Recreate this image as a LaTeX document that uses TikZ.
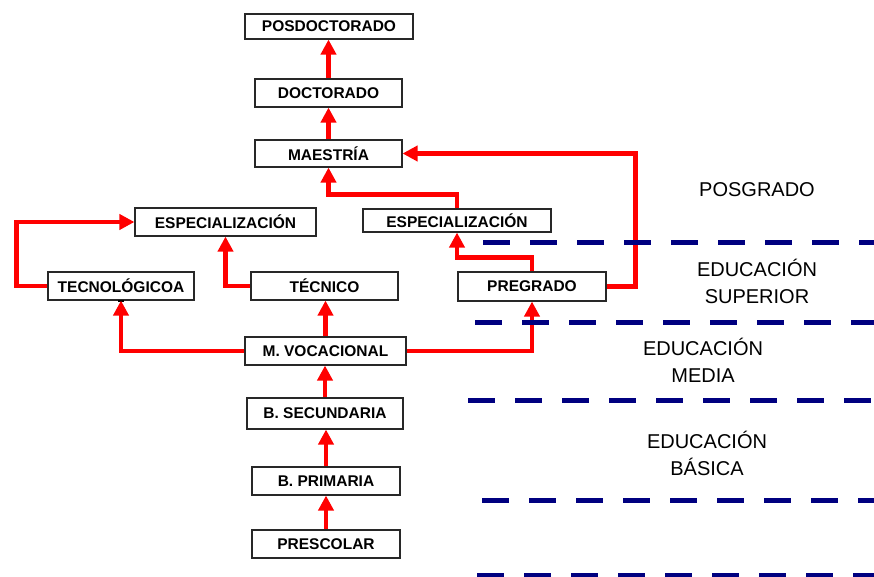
\documentclass[tikz,border=0pt]{standalone}
\usepackage{fontspec}
\setmainfont{Liberation Sans}
\usetikzlibrary{arrows.meta,calc}
\definecolor{arrred}{RGB}{255,0,0}
\definecolor{dashblue}{RGB}{0,0,128}
\definecolor{boxline}{RGB}{40,40,40}
\begin{document}
\begin{tikzpicture}[x=1pt,y=-1pt,
  lvlbox/.style={draw=boxline,line width=1.1pt,fill=white,inner sep=0pt,
    font=\bfseries\fontsize{15.5}{18}\selectfont},
  arr/.style={draw=arrred,line width=4.5pt,line join=miter,
    -{Triangle[length=15pt,width=15pt]}},
  levelline/.style={draw=dashblue,line width=5pt,dash pattern=on 27pt off 20pt},
  lvllabel/.style={align=center,font=\fontsize{20}{27}\selectfont,inner sep=0pt}]
\useasboundingbox (0,0) rectangle (874,577);
% boxes
\node[lvlbox,minimum width=168pt,minimum height=25pt] (posdoc) at (329,26.5) {POSDOCTORADO};
\node[lvlbox,minimum width=147pt,minimum height=28pt] (doc) at (328.5,93) {DOCTORADO};
\node[lvlbox,minimum width=147pt,minimum height=27pt] (maes) at (328.5,153.5) {MAESTRÍA};
\node[lvlbox,minimum width=181pt,minimum height=28pt] (espL) at (225.5,222) {ESPECIALIZACIÓN};
\node[lvlbox,minimum width=188pt,minimum height=23pt] (espR) at (457,220.5) {ESPECIALIZACIÓN};
\node[lvlbox,minimum width=146pt,minimum height=28pt] (tecno) at (121,286) {TECNOLÓGICOA};
\node[lvlbox,minimum width=147pt,minimum height=28pt] (tecnico) at (324.5,286) {TÉCNICO};
\node[lvlbox,minimum width=148pt,minimum height=29pt] (preg) at (532,286.5) {PREGRADO};
\node[lvlbox,minimum width=161pt,minimum height=28pt] (mv) at (325.5,351) {M. VOCACIONAL};
\node[lvlbox,minimum width=156pt,minimum height=31pt] (bsec) at (325,413.5) {B. SECUNDARIA};
\node[lvlbox,minimum width=148pt,minimum height=28pt] (bprim) at (326,481) {B. PRIMARIA};
\node[lvlbox,minimum width=148pt,minimum height=28pt] (presc) at (326,544) {PRESCOLAR};
% small mark under TECNOLOGICOA
\draw[black,line width=2pt] ($(tecno.south)+(-3,0)$) -- ($(tecno.south)+(3,0)$);
% connectors
\draw[arr] (doc.north) -- (doc.north |- posdoc.south);
\draw[arr] (maes.north) -- (maes.north |- doc.south);
\draw[arr] (espR.north) -- ++(0,-14) -| (maes.south);
\draw[arr] (preg.north) -- ++(0,-14) -| (espR.south);
\draw[arr] (preg.east) -- ++(29,0) |- (maes.east);
\draw[arr] (mv.north) -- (mv.north |- tecnico.south);
\draw[arr] (tecnico.west) -| (espL.south);
\draw[arr] (tecno.west) -- ++(-31,0) |- (espL.west);
\draw[arr] (mv.west) -| (tecno.south);
\draw[arr] (mv.east) -| (preg.south);
\draw[arr] (bsec.north) -- (bsec.north |- mv.south);
\draw[arr] (bprim.north) -- (bprim.north |- bsec.south);
\draw[arr] (presc.north) -- (presc.north |- bprim.south);
% level lines
\draw[levelline] (483,242.3) -- (874,242.3);
\draw[levelline] (475,322.3) -- (874,322.3);
\draw[levelline] (468,400.7) -- (874,400.7);
\draw[levelline] (482,500) -- (874,500);
\draw[levelline] (477,575) -- (874,575);
% level labels
\node[lvllabel] (lposg) at (757,190) {POSGRADO};
\node[lvllabel] (lsup) at (757,281) {EDUCACIÓN\\SUPERIOR};
\node[lvllabel] (lmed) at (703,360) {EDUCACIÓN\\MEDIA};
\node[lvllabel] (lbas) at (707,453) {EDUCACIÓN\\BÁSICA};
\end{tikzpicture}
\end{document}
